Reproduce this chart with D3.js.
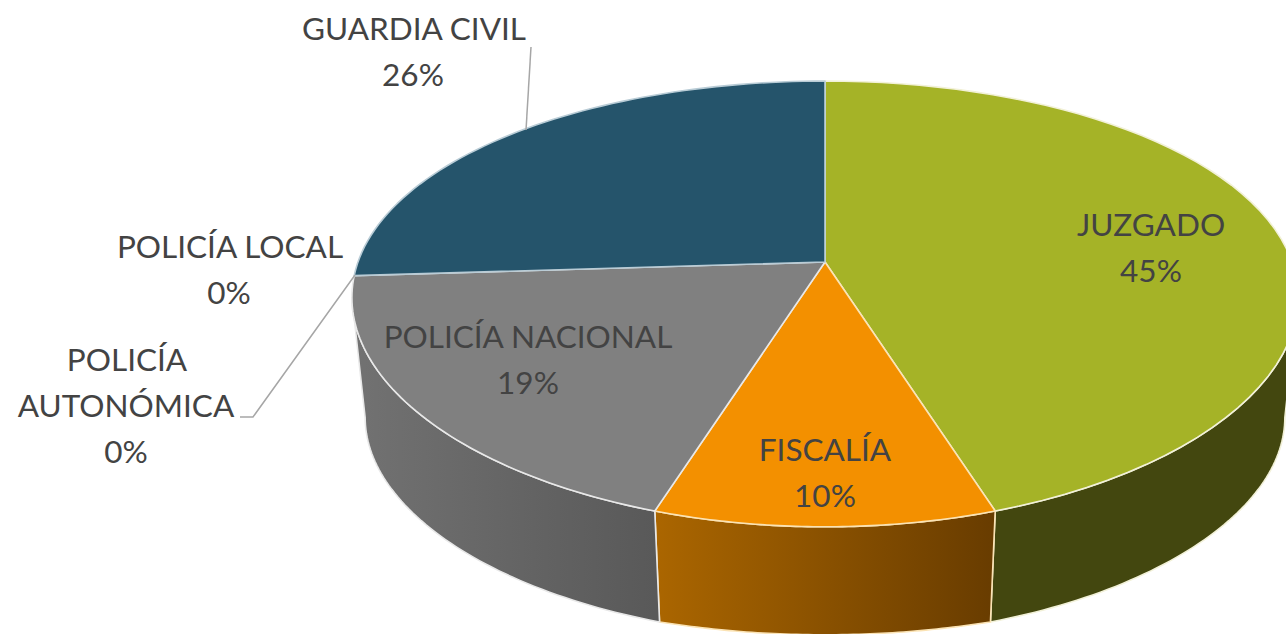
<!DOCTYPE html>
<html lang="es">
<head>
<meta charset="utf-8">
<style>
html,body{margin:0;padding:0;background:#fff;overflow:hidden}
svg{display:block}
text{font-family:Lato,"Open Sans",sans-serif;font-size:31.5px;fill:#434343;text-anchor:middle}
</style>
<script src="https://cdn.jsdelivr.net/npm/d3@7"></script>
</head>
<body>
<svg id="chart" width="1286" height="634"></svg>
<script>
const categories = ["JUZGADO","FISCALÍA","POLICÍA NACIONAL","POLICÍA AUTONÓMICA","POLICÍA LOCAL","GUARDIA CIVIL"];
const shares = [45,10,19,0,0,26];
const topColors = ["#a5b327","#f39000","#808080","#808080","#4a7f9c","#25546b"];
const sideColorsFrom = ["#43470f","#ab6600","#727272","#727272","#1c4052","#1c4052"];
const sideColorsTo = ["#43470f","#683c00","#595959","#595959","#1c4052","#1c4052"];
const rimColors = ["#f2f1d8","#fbe3b4","#e8e8e8","#e8e8e8","#b9ccd6","#b9ccd6"];

// label lines, with the centre of each line in the picture
const labelLayout = [
  {i:0, lines:[["JUZGADO",1151,225],["45%",1151,271]]},
  {i:1, lines:[["FISCALÍA",825,450],["10%",825,496]]},
  {i:2, lines:[["POLICÍA NACIONAL",528,337],["19%",528,383]]},
  {i:3, lines:[["POLICÍA",127,360],["AUTONÓMICA",126,406],["0%",126,452]]},
  {i:4, lines:[["POLICÍA LOCAL",230,247],["0%",229,293]]},
  {i:5, lines:[["GUARDIA CIVIL",414,29],["26%",413,75]]}
];
const leaders = [
  [[531,47],[526,130]],
  [[355,275],[253,417],[240,417]]
];

const svg = d3.select("#chart");
const defs = svg.append("defs");

// perspective projection of the unit disc onto the page
const cx = 825, cy = 262, ky = 0.188, kx = 0.16, ax = 467, ay = 215, shrink = 0.972;
const depth = d3.scaleLinear().domain([-1,-0.95,-0.16,1]).range([108,111,120,120]);
function rim(t){
  const s = Math.sin(t), c = Math.cos(t);
  return [cx + ax*s/(1+kx*c), cy - ay*c/(1+ky*c)];
}
function rimBottom(t){
  const p = rim(t), c = Math.cos(t);
  return [cx + (p[0]-cx)*shrink, p[1] + depth(c)];
}
const line = d3.line();
const sample = (a,b) => d3.range(0,61).map(i => a + (b-a)*i/60);

const arcs = d3.pie().sort(null).value(d=>d)(shares);

// side walls: only the part between the two silhouette angles faces the viewer
const silhouette = Math.acos(-kx);
const sides = arcs.map((d,i)=>({d,i,a:Math.max(d.startAngle,silhouette),b:Math.min(d.endAngle,2*Math.PI-silhouette)}))
  .filter(s=>s.b>s.a);
sides.forEach(s=>{
  const id = "side"+s.i;
  const p0 = rim(s.a)[0], p1 = rim(s.b)[0];
  const g = defs.append("linearGradient").attr("id",id).attr("gradientUnits","userSpaceOnUse")
    .attr("x1",Math.min(p0,p1)).attr("x2",Math.max(p0,p1)).attr("y1",0).attr("y2",0);
  g.append("stop").attr("offset",0).attr("stop-color",sideColorsFrom[s.i]);
  g.append("stop").attr("offset",1).attr("stop-color",sideColorsTo[s.i]);
});
svg.append("g").selectAll("path").data(sides).join("path")
  .attr("d",s=>{
    const top = sample(s.a,s.b).map(rim);
    const bot = sample(s.a,s.b).map(rimBottom).reverse();
    return line(top.concat(bot))+"Z";
  })
  .attr("fill",s=>`url(#side${s.i})`)
  .attr("stroke",s=>rimColors[s.i])
  .attr("stroke-width",1.6)
  .attr("stroke-linejoin","round");

// top faces
svg.append("g").selectAll("path").data(arcs.filter(d=>d.endAngle>d.startAngle)).join("path")
  .attr("d",d=>line([[cx,cy]].concat(sample(d.startAngle,d.endAngle).map(rim)))+"Z")
  .attr("fill",d=>topColors[d.index])
  .attr("stroke",d=>rimColors[d.index])
  .attr("stroke-width",1.6)
  .attr("stroke-linejoin","round");

// leader lines
svg.append("g").selectAll("path").data(leaders).join("path")
  .attr("d",d=>line(d))
  .attr("fill","none").attr("stroke","#a6a6a6").attr("stroke-width",1.5);

// labels
svg.append("g").selectAll("g").data(labelLayout).join("g")
  .selectAll("text").data(d=>d.lines).join("text")
  .attr("x",d=>d[1]).attr("y",d=>d[2]+10.5).text(d=>d[0]);
</script>
</body>
</html>
